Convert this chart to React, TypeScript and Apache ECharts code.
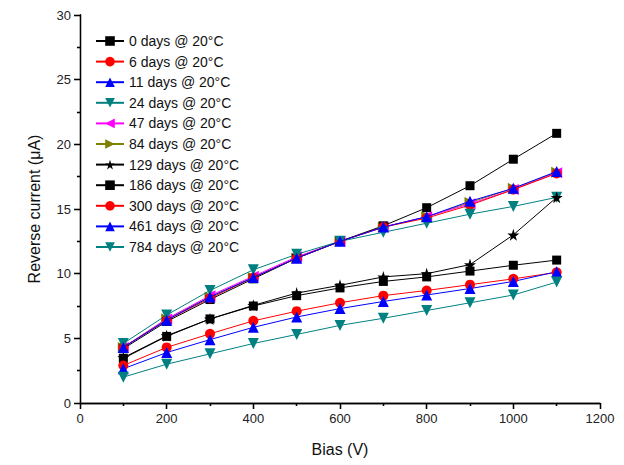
import React, { useEffect, useRef } from "react";
import * as echarts from "echarts";

const biasV = [100, 200, 300, 400, 500, 600, 700, 800, 900, 1000, 1100];

const seriesNames = [
  "0 days @ 20°C",
  "6 days @ 20°C",
  "11 days @ 20°C",
  "24 days @ 20°C",
  "47 days @ 20°C",
  "84 days @ 20°C",
  "129 days @ 20°C",
  "186 days @ 20°C",
  "300 days @ 20°C",
  "461 days @ 20°C",
  "784 days @ 20°C",
];

const d0 = [4.2, 6.3, 8.0, 9.6, 11.2, 12.5, 13.7, 15.1, 16.8, 18.85, 20.85];
const d6 = [4.3, 6.4, 8.1, 9.7, 11.2, 12.5, 13.6, 14.3, 15.3, 16.5, 17.75];
const d11 = [4.3, 6.4, 8.2, 9.7, 11.2, 12.5, 13.6, 14.4, 15.6, 16.6, 17.9];
const d24 = [4.6, 6.8, 8.7, 10.3, 11.5, 12.5, 13.2, 13.9, 14.6, 15.2, 15.9];
const d47 = [4.3, 6.5, 8.3, 9.8, 11.3, 12.5, 13.6, 14.4, 15.4, 16.5, 17.8];
const d84 = [4.3, 6.5, 8.2, 9.7, 11.2, 12.5, 13.6, 14.4, 15.5, 16.6, 17.85];
const d129 = [3.5, 5.2, 6.5, 7.55, 8.5, 9.1, 9.75, 10.0, 10.7, 13.0, 15.9];
const d186 = [3.45, 5.15, 6.5, 7.5, 8.3, 8.9, 9.4, 9.75, 10.2, 10.65, 11.05];
const d300 = [2.9, 4.3, 5.35, 6.35, 7.1, 7.75, 8.3, 8.7, 9.15, 9.6, 10.1];
const d461 = [2.65, 3.9, 4.9, 5.85, 6.65, 7.3, 7.85, 8.35, 8.85, 9.4, 10.15];
const d784 = [2.0, 3.0, 3.8, 4.6, 5.3, 6.0, 6.55, 7.15, 7.75, 8.35, 9.35];

const seriesValues = [d0, d6, d11, d24, d47, d84, d129, d186, d300, d461, d784];

const BLACK = "#000000";
const RED = "#ff0000";
const BLUE = "#0000ff";
const TEAL = "#008080";
const MAGENTA = "#ff00ff";
const OLIVE = "#808000";

const SQUARE = "rect";
const CIRCLE = "circle";
const UP = "triangle";
const DOWN = "path://M0,0 L10,0 L5,9 Z";
const LEFT = "path://M9,0 L9,10 L0,5 Z";
const RIGHT = "path://M0,0 L0,10 L9,5 Z";
const STAR =
  "path://M50,0 L61,35 L98,35 L68,57 L79,91 L50,70 L21,91 L32,57 L2,35 L39,35 Z";

const styles = [
  { color: BLACK, symbol: SQUARE, size: 9, z: 3 },
  { color: RED, symbol: CIRCLE, size: 10, z: 3 },
  { color: BLUE, symbol: UP, size: 11, z: 4 },
  { color: TEAL, symbol: DOWN, size: 11, z: 3 },
  { color: MAGENTA, symbol: LEFT, size: 11, z: 2 },
  { color: OLIVE, symbol: RIGHT, size: 11, z: 1 },
  { color: BLACK, symbol: STAR, size: 12, z: 3 },
  { color: BLACK, symbol: SQUARE, size: 9, z: 3 },
  { color: RED, symbol: CIRCLE, size: 10, z: 3 },
  { color: BLUE, symbol: UP, size: 11, z: 3 },
  { color: TEAL, symbol: DOWN, size: 11, z: 3 },
];

const FONT = "'Liberation Sans', Arial, sans-serif";

export default function App() {
  const ref = useRef<HTMLDivElement>(null);

  useEffect(() => {
    if (!ref.current) return;
    const chart = echarts.init(ref.current, undefined, { renderer: "svg" });

    const axisLine = { show: true, lineStyle: { color: "#000", width: 1.3 } };
    const plain = (v: number) => String(v);

    const series = seriesNames.map((name, i) => ({
      name,
      type: "line",
      data: biasV.map((x, j) => [x, seriesValues[i][j]]),
      symbol: styles[i].symbol,
      symbolSize: styles[i].size,
      showAllSymbol: true,
      z: styles[i].z,
      lineStyle: { color: styles[i].color, width: 1 },
      itemStyle: { color: styles[i].color },
      emphasis: { disabled: true },
      xAxisIndex: 0,
      yAxisIndex: 0,
    }));

    chart.setOption({
      animation: false,
      textStyle: { fontFamily: FONT },
      grid: { left: 80, right: 24, top: 15, bottom: 62, containLabel: false },
      legend: {
        orient: "vertical",
        left: 95,
        top: 34,
        padding: 0,
        itemWidth: 28,
        itemHeight: 12,
        itemGap: 6.6,
        data: seriesNames,
        textStyle: {
          fontFamily: FONT,
          fontSize: 14,
          color: "#111",
          lineHeight: 14,
        },
      },
      xAxis: [
        {
          type: "value",
          min: 0,
          max: 1200,
          interval: 200,
          position: "bottom",
          name: "Bias (V)",
          nameLocation: "middle",
          nameGap: 38,
          nameTextStyle: { fontFamily: FONT, fontSize: 16, color: "#111" },
          axisLine,
          axisTick: { show: true, inside: false, length: 6, lineStyle: { color: "#000", width: 1.3 } },
          minorTick: { show: true, splitNumber: 2, length: 3, lineStyle: { color: "#000", width: 1.3 } },
          axisLabel: { fontFamily: FONT, fontSize: 13, color: "#222", margin: 9, formatter: plain },
          splitLine: { show: false },
        },
        {
          type: "value",
          min: 0,
          max: 1200,
          interval: 200,
          position: "top",
          axisLine,
          axisTick: { show: true, inside: true, length: 6, lineStyle: { color: "#000", width: 1.3 } },
          minorTick: { show: true, splitNumber: 2, length: 3, lineStyle: { color: "#000", width: 1.3 } },
          axisLabel: { show: false },
          splitLine: { show: false },
        },
      ],
      yAxis: [
        {
          type: "value",
          min: 0,
          max: 30,
          interval: 5,
          position: "left",
          name: "Reverse current (μA)",
          nameLocation: "middle",
          nameGap: 38,
          nameTextStyle: { fontFamily: FONT, fontSize: 16, color: "#111" },
          axisLine,
          axisTick: { show: true, inside: false, length: 6, lineStyle: { color: "#000", width: 1.3 } },
          minorTick: { show: true, splitNumber: 2, length: 3, lineStyle: { color: "#000", width: 1.3 } },
          axisLabel: { fontFamily: FONT, fontSize: 13, color: "#222", margin: 9, formatter: plain },
          splitLine: { show: false },
        },
        {
          type: "value",
          min: 0,
          max: 30,
          interval: 5,
          position: "right",
          axisLine,
          axisTick: { show: true, inside: true, length: 6, lineStyle: { color: "#000", width: 1.3 } },
          minorTick: { show: true, splitNumber: 2, length: 3, lineStyle: { color: "#000", width: 1.3 } },
          axisLabel: { show: false },
          splitLine: { show: false },
        },
      ],
      series,
    });

    return () => chart.dispose();
  }, []);

  return (
    <div
      ref={ref}
      style={{ position: "absolute", left: 0, top: 0, width: 624, height: 465, background: "#fff" }}
    />
  );
}
